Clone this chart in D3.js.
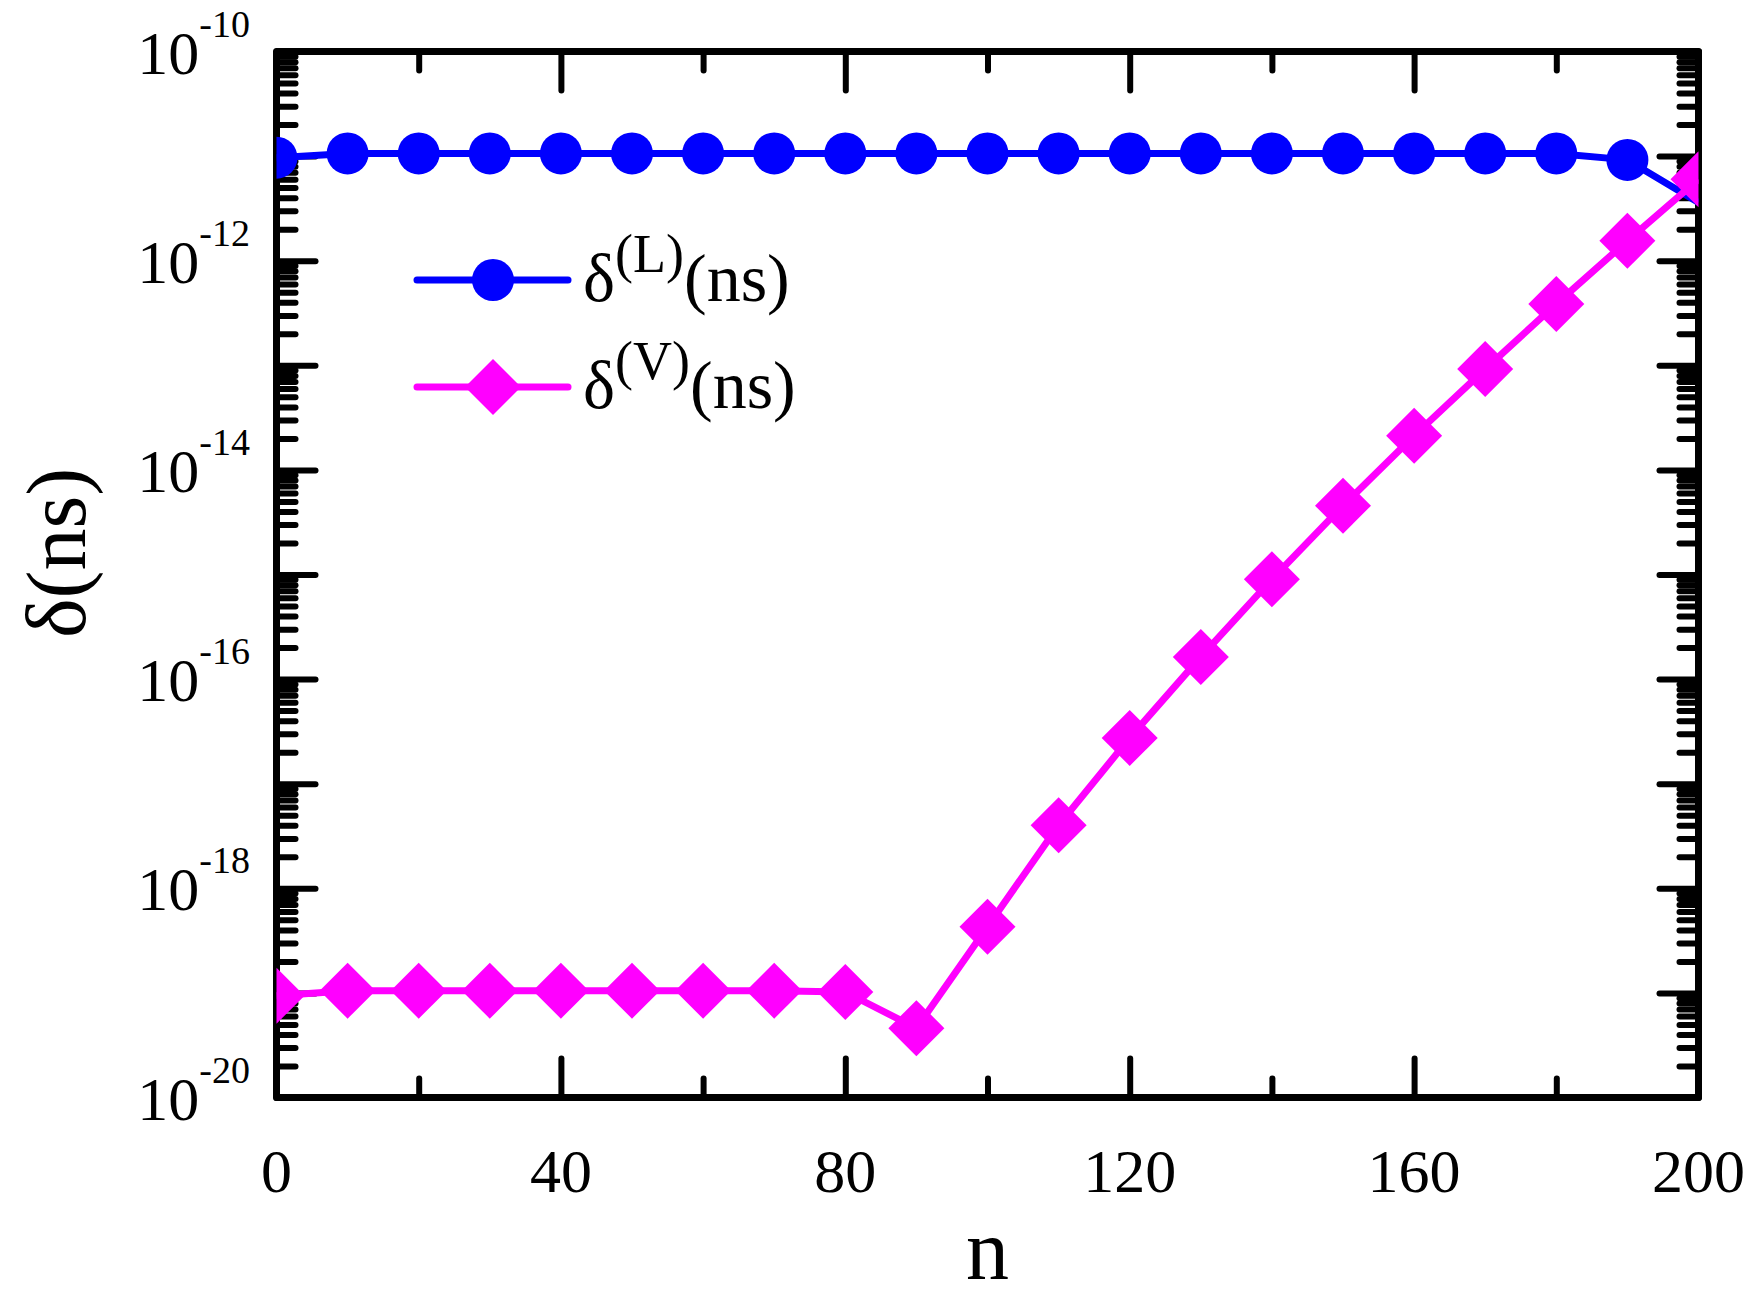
<!DOCTYPE html>
<html><head><meta charset="utf-8">
<script src="https://cdn.jsdelivr.net/npm/d3@7"></script>
<style>
body{margin:0;background:#fff}
text{font-family:"Liberation Serif","Times New Roman",serif;fill:#000}
</style>
</head><body>
<svg id="c" width="1755" height="1302"></svg>
<script>
// ---- data ----
const nValues = [0,10,20,30,40,50,60,70,80,90,100,110,120,130,140,150,160,170,180,190,200];
const deltaL = [9.65e-12,1.06e-11,1.06e-11,1.06e-11,1.06e-11,1.06e-11,1.06e-11,1.06e-11,1.06e-11,1.06e-11,1.06e-11,
                1.06e-11,1.06e-11,1.06e-11,1.06e-11,1.06e-11,1.06e-11,1.06e-11,1.06e-11,9.2e-12,3.6e-12];
const deltaV = [9.4e-20,1.05e-19,1.05e-19,1.05e-19,1.05e-19,1.05e-19,1.05e-19,1.05e-19,1.02e-19,4.6e-20,4.3e-19,
                4.0e-18,2.74e-17,1.63e-16,9.0e-16,4.55e-15,2.12e-14,9.2e-14,3.86e-13,1.55e-12,6.0e-12];
const xMajorTicks = [0,40,80,120,160,200];
const xMinorTicks = [20,60,100,140,180];
const yLabelExponents = [-10,-12,-14,-16,-18,-20];
const yDecadeExponents = [-10,-11,-12,-13,-14,-15,-16,-17,-18,-19,-20];
const legendLabels = [{sup:"(L)", main:"(ns)"},{sup:"(V)", main:"(ns)"}];
const xTitle = "n";
const yTitle = "δ(ns)";

// ---- layout ----
const L = 276.5, R = 1698.5, T = 51.5, B = 1097.5;
const svg = d3.select("#c");
const x = d3.scaleLinear().domain([0,200]).range([L,R]);
const y = d3.scaleLog().domain([1e-20,1e-10]).range([B,T]);

const yMinor = [];
yDecadeExponents.slice(0,-1).forEach(e => { for (let k=2;k<=9;k++) yMinor.push(k*Math.pow(10,e-1)); });
const yMajor = yDecadeExponents.map(e => Math.pow(10,e));

const MAJ = 39, MIN = 19;
function styleAxis(g){
  g.select(".domain").remove();
  g.selectAll("line").attr("stroke","#000").attr("stroke-width",6).attr("stroke-linecap","round");
  g.selectAll("text").remove();
}
// x ticks bottom / top
[[d3.axisBottom, B, -1],[d3.axisTop, T, -1]].forEach(([ax,pos])=>{
  svg.append("g").attr("transform",`translate(0,${pos})`).call(ax(x).tickValues(xMajorTicks).tickSize(-MAJ).tickFormat("")).call(styleAxis);
  svg.append("g").attr("transform",`translate(0,${pos})`).call(ax(x).tickValues(xMinorTicks).tickSize(-MIN).tickFormat("")).call(styleAxis);
});
// y ticks left / right
[[d3.axisLeft, L],[d3.axisRight, R]].forEach(([ax,pos])=>{
  svg.append("g").attr("transform",`translate(${pos},0)`).call(ax(y).tickValues(yMajor).tickSize(-MAJ).tickFormat("")).call(styleAxis);
  svg.append("g").attr("transform",`translate(${pos},0)`).call(ax(y).tickValues(yMinor).tickSize(-MIN).tickFormat("")).call(styleAxis);
});

// frame
svg.append("rect").attr("x",L).attr("y",T).attr("width",R-L).attr("height",B-T)
  .attr("fill","none").attr("stroke","#000").attr("stroke-width",7).attr("stroke-linejoin","round");

// x labels
svg.append("g").selectAll("text").data(xMajorTicks).join("text")
  .attr("x",d=>x(d)).attr("y",1192).attr("text-anchor","middle").attr("font-size",62).text(d=>d);
// y labels
const yl = svg.append("g").selectAll("text").data(yLabelExponents).join("text")
  .attr("x",250).attr("y",d=>y(Math.pow(10,d))+22).attr("text-anchor","end").attr("font-size",62);
yl.append("tspan").text("10");
yl.append("tspan").attr("font-size",38).attr("dy",-37).text(d=>String(d));

// titles
svg.append("text").attr("x",(L+R)/2).attr("y",1279).attr("text-anchor","middle").attr("font-size",86).text(xTitle);
svg.append("text").attr("transform","translate(85,553) rotate(-90)").attr("text-anchor","middle").attr("font-size",84).text(yTitle);

// data
svg.append("defs").append("clipPath").attr("id","clip").append("rect")
  .attr("x",L).attr("y",T).attr("width",R-L).attr("height",B-T);
const plot = svg.append("g").attr("clip-path","url(#clip)");
const line = d3.line().x(d=>x(d[0])).y(d=>y(d[1]));
const circ = d3.symbol(d3.symbolCircle, Math.PI*21*21);
const diam = d3.symbol(d3.symbolSquare, 1568);
const ptsL = nValues.map((n,i)=>[n,deltaL[i]]);
const ptsV = nValues.map((n,i)=>[n,deltaV[i]]);

plot.append("path").attr("d",line(ptsL)).attr("fill","none").attr("stroke","#0000FF").attr("stroke-width",7).attr("stroke-linejoin","round");
plot.append("g").selectAll("path").data(ptsL.filter(d=>d[0]<200)).join("path")
  .attr("d",circ).attr("transform",d=>`translate(${x(d[0])},${y(d[1])})`).attr("fill","#0000FF");
plot.append("path").attr("d",line(ptsV)).attr("fill","none").attr("stroke","#FF00FF").attr("stroke-width",7).attr("stroke-linejoin","round");
plot.append("g").selectAll("path").data(ptsV).join("path")
  .attr("d",diam).attr("transform",d=>`translate(${x(d[0])},${y(d[1])}) rotate(45)`).attr("fill","#FF00FF");

// legend
const lg = svg.append("g");
const rows = [{y:280, color:"#0000FF", sym:circ, rot:0},{y:387, color:"#FF00FF", sym:diam, rot:45}];
rows.forEach((r,i)=>{
  lg.append("line").attr("x1",417).attr("x2",568).attr("y1",r.y).attr("y2",r.y)
    .attr("stroke",r.color).attr("stroke-width",7).attr("stroke-linecap","round");
  lg.append("path").attr("d",r.sym).attr("fill",r.color).attr("transform",`translate(493,${r.y}) rotate(${r.rot})`);
  const t = lg.append("text").attr("x",583).attr("y",r.y+21).attr("font-size",68);
  t.append("tspan").text("δ");
  t.append("tspan").attr("font-size",54).attr("dy",-29).text(legendLabels[i].sup);
  t.append("tspan").attr("dy",29).text(legendLabels[i].main);
});
</script>
</body></html>
